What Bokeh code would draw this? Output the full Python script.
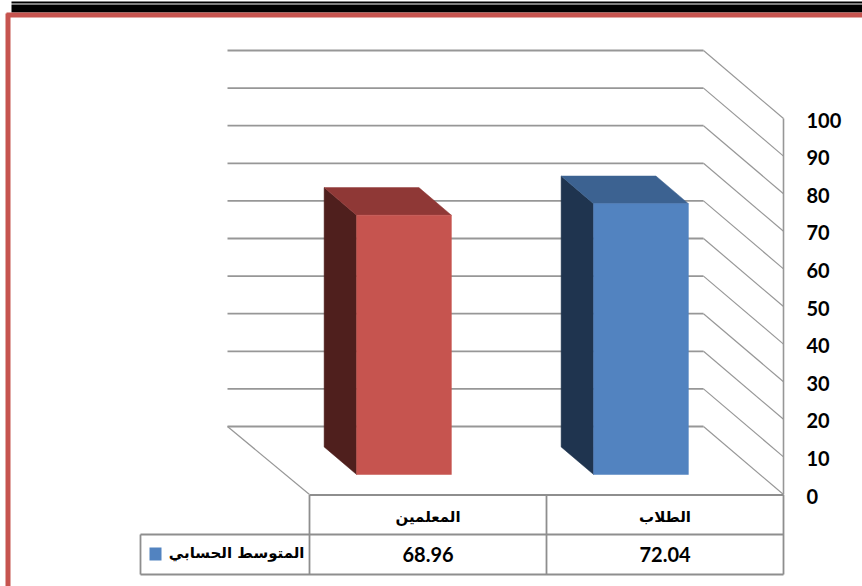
from bokeh.plotting import figure
from bokeh.embed import file_html
from bokeh.resources import INLINE
from bokeh.core.properties import value

categories = ["المعلمين", "الطلاب"]
series_name = "المتوسط الحسابي"
series_values = [68.96, 72.04]
value_labels = ["68.96", "72.04"]
ticks = [0, 10, 20, 30, 40, 50, 60, 70, 80, 90, 100]

W, H = 862, 586
X0, CAT = 309.0, 237.0       # pixel of category 0 edge, pixels per category
Y0, UNIT = 494.0, 3.76       # pixel of value 0, pixels per value unit
DX, DY = 80.0, 68.0          # depth of the box in pixels
BAR_T0, BAR_T1 = 0.294, 0.70  # depth range of a bar
BAR_W = 0.4

def px(x): return (x - X0) / CAT      # screen px -> x data
def py(y): return (Y0 - y) / UNIT     # screen px -> y data
def dep(t): return -t * DX / CAT, t * DY / UNIT   # depth offset in data units

p = figure(width=W, height=H, x_range=(px(0), px(W)), y_range=(py(H), py(0)),
           output_backend="svg", toolbar_location=None, min_border=0,
           x_axis_type="linear", margin=(0, 0, 0, 0))
p.axis.visible = False
p.grid.visible = False
p.outline_line_color = None
p.background_fill_color = "white"
p.border_fill_color = "white"

# page furniture above the chart
BLACK = "#000000"
RED = "#C6544F"
p.quad(left=[px(11)], right=[px(W)], top=[py(1)], bottom=[py(3)], fill_color=BLACK, line_color=None)
p.quad(left=[px(11)], right=[px(W)], top=[py(4)], bottom=[py(12)], fill_color=BLACK, line_color=None)
p.quad(left=[px(6)], right=[px(W)], top=[py(12)], bottom=[py(17)], fill_color=RED, line_color=None)
p.quad(left=[px(5)], right=[px(10)], top=[py(13)], bottom=[py(H)], fill_color=RED, line_color=None)

GRID = "#979797"
LINE = "#8E8E8E"
dxb, dyb = dep(1.0)
xL, xR = 0.0, float(len(categories))

# back wall and side-wall grid lines
for t in ticks:
    yb = t + dyb
    p.line([px(227), xR + dxb], [yb, yb], line_color=GRID, line_width=1.8)
    p.line([xR + dxb, xR], [yb, t], line_color=GRID, line_width=1.2)

# right edge and floor edge
p.line([xR, xR], [ticks[0], ticks[-1]], line_color=GRID, line_width=1.6)
p.line([px(227), xL], [dyb, 0], line_color=GRID, line_width=1.2)

# 3-D bars
styles = [("#C6544F", "#4F1F1D", "#8F3836"), ("#5283C0", "#1F344F", "#3C6291")]
for i, v in enumerate(series_values):
    front_col, side_col, top_col = styles[i]
    l = i + 0.5 - BAR_W / 2 - 0.002
    r = i + 0.5 + BAR_W / 2 - 0.002
    fx, fy = dep(BAR_T0)
    bx, by = dep(BAR_T1)
    p.patch([l + bx, l + fx, l + fx, l + bx], [by, fy, v + fy, v + by],
            fill_color=side_col, line_color=side_col, line_width=0.5)
    p.patch([l + bx, r + bx, r + fx, l + fx], [v + by, v + by, v + fy, v + fy],
            fill_color=top_col, line_color=top_col, line_width=0.5)
    p.quad(left=[l + fx], right=[r + fx], bottom=[fy], top=[v + fy],
           fill_color=front_col, line_color=front_col, line_width=0.5)

# data table under the chart
rows = [py(494.5), py(534), py(574)]
leftx = px(140)
p.line([xL, xR], [rows[0]] * 2, line_color=LINE, line_width=1.8)
p.line([leftx, xR], [rows[1]] * 2, line_color=LINE, line_width=1.8)
p.line([leftx, xR], [rows[2]] * 2, line_color=LINE, line_width=1.8)
p.line([leftx, leftx], [rows[1], rows[2]], line_color=LINE, line_width=1.8)
for c in range(len(categories) + 1):
    p.line([c, c], [rows[0], rows[2]], line_color=LINE, line_width=1.8)

AR = value("DejaVu Sans")
NUM = value("Lato")
centers = [i + 0.5 for i in range(len(categories))]
p.text(x=centers, y=[py(516)] * 2, text=categories, text_font=AR, text_font_style="bold",
       text_font_size="15px", text_align="center", text_baseline="middle", text_color="#000000")
p.text(x=centers, y=[py(554)] * 2, text=value_labels, text_font=NUM, text_font_style="bold",
       text_font_size="20px", text_align="center", text_baseline="middle", text_color="#000000")
p.text(x=[px(304)], y=[py(552)], text=[series_name], text_font=AR, text_font_style="bold",
       text_font_size="15px", text_align="right", text_baseline="middle", text_color="#000000")
p.quad(left=[px(149)], right=[px(161)], top=[py(547)], bottom=[py(560)],
       fill_color="#5283C0", line_color=None)

p.text(x=[px(806)] * len(ticks), y=[t - 0.4 for t in ticks], text=[str(t) for t in ticks],
       text_font=NUM, text_font_style="bold", text_font_size="20px",
       text_align="left", text_baseline="middle", text_color="#000000")

open("out.html", "w").write(file_html(p, INLINE))
